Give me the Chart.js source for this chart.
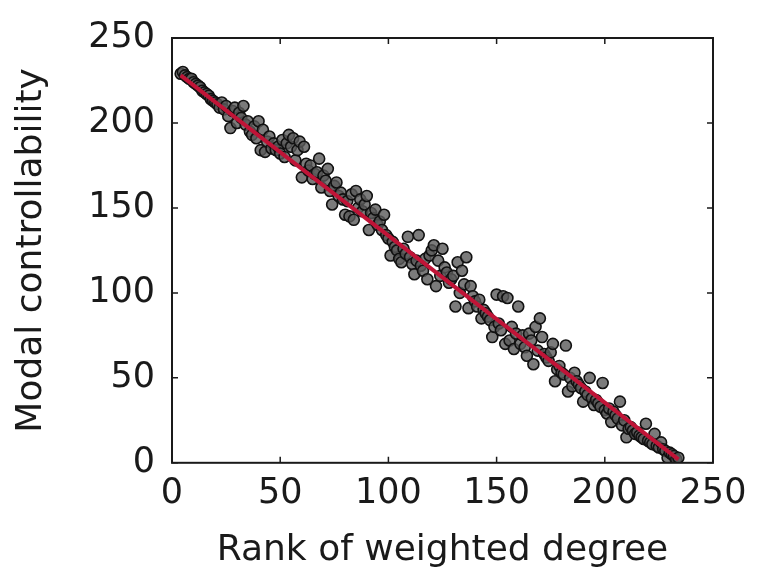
<!DOCTYPE html>
<html>
<head>
<meta charset="utf-8">
<script src="https://cdn.jsdelivr.net/npm/chart.js@4.4.1/dist/chart.umd.min.js"></script>
<style>
  html, body { margin: 0; padding: 0; background: #fff; }
  #wrap { width: 759px; height: 584px; }
</style>
</head>
<body>
<div id="wrap"><canvas id="grafik" width="759" height="584"></canvas></div>
<script>
// axis ticks
const tickValues = [0, 50, 100, 150, 200, 250];

// scatter points: [rank of weighted degree, modal controllability]
const points = [
  [4,229],[5,230],[6,228],[7,227],[8,226],[9,226],[10,224],[11,223],[12,222],[13,221],
  [14,219],[15,218],[16,217],[17,216],[18,214],[19,213],[20,212],
  [21,211],[22,209],[23,212],[24,208],[25,210],[26,204],[27,197],[28,207],[29,209],[30,200],
  [31,206],[32,203],[33,210],[34,199],[35,201],
  [36,195],[37,193],[38,198],[39,191],[40,201],[41,184],[42,196],[43,183],[44,189],[45,192],
  [46,185],[47,188],[48,184],[49,186],[50,182],
  [51,190],[52,180],[53,188],[54,193],[55,186],[56,191],[57,178],[58,184],[59,189],[60,168],
  [61,186],[62,176],[63,172],[64,175],[65,167],[66,170],[67,171],[68,179],[69,162],[70,169],
  [71,166],[72,173],[73,160],[74,152],[75,163],[76,165],[77,157],[78,159],[79,155],[80,146],
  [81,154],[82,145],[83,158],[84,143],[85,160],[86,150],[87,155],[88,148],[89,152],[90,157],
  [91,137],[92,147],[93,144],[94,149],[95,140],[96,142],[97,137],[98,146],[99,134],[100,132],
  [101,122],[102,130],[103,127],[104,125],[105,120],[106,118],[107,126],[108,123],[109,133],[110,121],
  [111,117],[112,111],[113,119],[114,134],[115,116],[116,113],[117,120],[118,108],[119,122],[120,125],
  [121,128],[122,104],[123,119],[124,110],[125,126],[126,115],[127,112],[128,106],[129,108],[130,110],
  [131,92],[132,118],[133,100],[134,113],[135,105],[136,121],[137,91],[138,104],[139,98],[140,95],
  [141,92],[142,96],[143,85],[144,90],[145,88],[146,86],[147,84],[148,74],[149,80],[150,99],
  [151,82],[152,78],[153,98],[154,70],[155,97],[156,72],[157,80],[158,67],[159,76],[160,92],
  [161,70],[162,75],[163,68],[164,63],[165,76],[166,72],[167,58],[168,80],[169,66],[170,85],
  [171,74],[172,64],[173,62],[174,60],[175,65],[176,70],[177,48],[178,55],[179,57],[180,53],
  [181,52],[182,69],[183,42],[184,50],[185,45],[186,53],[187,48],[188,46],[189,44],[190,36],
  [191,42],[192,40],[193,50],[194,38],[195,34],[196,37],[197,35],[198,33],[199,47],[200,31],
  [201,29],[202,32],[203,24],[204,30],[205,28],[206,26],[207,36],[208,22],[209,25],[210,15],
  [211,20],[212,21],[213,19],[214,17],[215,18],[216,16],[217,15],[218,14],[219,23],[220,13],
  [221,12],[222,11],[223,17],[224,10],[225,9],[226,12],[227,8],[228,7],[229,3],[230,6],
  [231,5],[232,4],[233,2],[234,3]
];

// fitted line endpoints
const fitX = [4, 234];
const fitY = [228, 2];

const scatterData = points.map(p => ({ x: p[0], y: p[1] }));
const fitData = fitX.map((x, i) => ({ x: x, y: fitY[i] }));

// frame + inward ticks on all four sides
const framePlugin = {
  id: 'frame',
  afterDraw(chart) {
    const ctx = chart.ctx;
    const a = chart.chartArea;
    const sx = chart.scales.x;
    const sy = chart.scales.y;
    ctx.save();
    ctx.strokeStyle = '#1a1a1a';
    ctx.lineWidth = 2;
    ctx.strokeRect(a.left, a.top, a.right - a.left, a.bottom - a.top);
    ctx.lineWidth = 1.5;
    tickValues.forEach(v => {
      const px = sx.getPixelForValue(v);
      const py = sy.getPixelForValue(v);
      ctx.beginPath();
      ctx.moveTo(px, a.bottom); ctx.lineTo(px, a.bottom - 6);
      ctx.moveTo(px, a.top); ctx.lineTo(px, a.top + 6);
      ctx.moveTo(a.left, py); ctx.lineTo(a.left + 6, py);
      ctx.moveTo(a.right, py); ctx.lineTo(a.right - 6, py);
      ctx.stroke();
    });
    ctx.restore();
  }
};

const fontFam = '"DejaVu Sans", Arial, sans-serif';

new Chart(document.getElementById('grafik').getContext('2d'), {
  type: 'scatter',
  data: {
    datasets: [
      {
        label: 'Fit',
        type: 'line',
        data: fitData,
        borderColor: 'rgb(192, 20, 55)',
        borderWidth: 4,
        pointRadius: 0,
        fill: false,
        order: 0
      },
      {
        label: 'Nodes',
        data: scatterData,
        backgroundColor: 'rgba(90, 90, 90, 0.8)',
        borderColor: '#111',
        borderWidth: 1.6,
        pointRadius: 5.5,
        order: 1
      }
    ]
  },
  options: {
    responsive: false,
    animation: false,
    layout: { padding: { left: 10, right: 46, top: 37, bottom: 12 } },
    plugins: {
      legend: { display: false },
      tooltip: { enabled: false }
    },
    scales: {
      x: {
        type: 'linear',
        min: 0,
        max: 250,
        grid: { display: false, drawTicks: false },
        border: { display: false },
        ticks: {
          stepSize: 50,
          padding: 10,
          color: '#1a1a1a',
          font: { family: fontFam, size: 35 }
        },
        title: {
          display: true,
          text: 'Rank of weighted degree',
          color: '#1a1a1a',
          font: { family: fontFam, size: 36 },
          padding: { top: 4, bottom: 0 }
        }
      },
      y: {
        type: 'linear',
        min: 0,
        max: 250,
        grid: { display: false, drawTicks: false },
        border: { display: false },
        ticks: {
          stepSize: 50,
          padding: 17,
          color: '#1a1a1a',
          font: { family: fontFam, size: 35 }
        },
        title: {
          display: true,
          text: 'Modal controllability',
          color: '#1a1a1a',
          font: { family: fontFam, size: 36 },
          padding: { top: 0, bottom: 18 }
        }
      }
    }
  },
  plugins: [framePlugin]
});
</script>
</body>
</html>
